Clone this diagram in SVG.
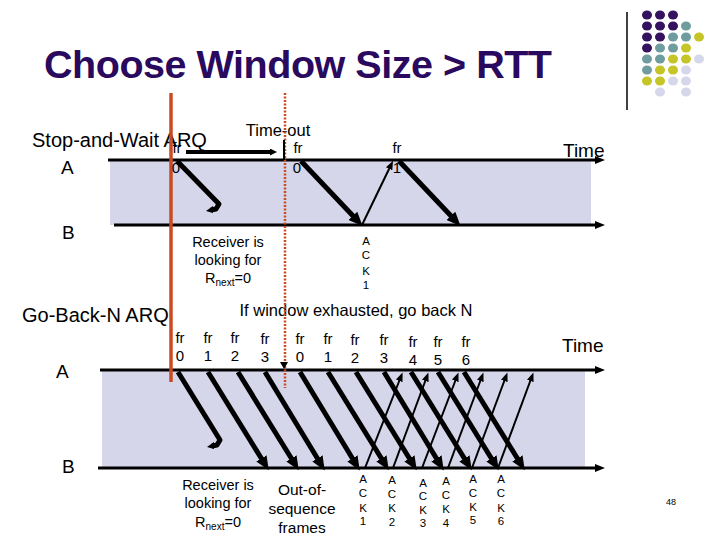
<svg xmlns="http://www.w3.org/2000/svg" width="720" height="540" viewBox="0 0 720 540">
<defs>
<style>
text{font-family:"Liberation Sans",Arial,sans-serif;fill:#000}
.title{font-size:39.5px;font-weight:bold;fill:#2a0a5e}
.lbl{font-size:19px}
.big{font-size:20px}
.fr{font-size:15px;text-anchor:middle}
.note{font-size:14.5px;text-anchor:middle}
.ack{font-size:11.5px;text-anchor:middle}
.band{fill:#d5d6ea}
.axis{stroke:#000;stroke-width:3;fill:none;marker-end:url(#ax)}
.frame{stroke:#000;stroke-width:5;fill:none;marker-end:url(#big)}
.lost{stroke:#000;stroke-width:5;fill:none;stroke-linejoin:round}
.ackl{stroke:#000;stroke-width:2;fill:none;marker-end:url(#small)}
.red{stroke:#c84b22;stroke-width:3.5}
.reddot{stroke:#c84b22;stroke-width:2.5;stroke-dasharray:2 1.5}
.p{fill:#35125f}.t{fill:#6f9c9e}.y{fill:#c5c527}.l{fill:#d6d7ea}
</style>
<marker id="ax" markerUnits="userSpaceOnUse" markerWidth="10" markerHeight="8" refX="2" refY="4" orient="auto"><path d="M0,0 L10,4 L0,8 z" fill="#000"/></marker>
<marker id="big" markerUnits="userSpaceOnUse" markerWidth="14" markerHeight="12" refX="3" refY="6" orient="auto"><path d="M0,0 L14,6 L0,12 z" fill="#000"/></marker>
<marker id="small" markerUnits="userSpaceOnUse" markerWidth="9" markerHeight="7" refX="2" refY="3.5" orient="auto"><path d="M0,0 L9,3.5 L0,7 z" fill="#000"/></marker>
<marker id="tiny" markerUnits="userSpaceOnUse" markerWidth="7" markerHeight="7" refX="2" refY="3.5" orient="auto"><path d="M0,0 L7,3.5 L0,7 z" fill="#000"/></marker>
</defs>
<rect width="720" height="540" fill="#fff"/>

<g id="decoration">
<line x1="627" y1="12" x2="627" y2="110" stroke="#000" stroke-width="1.5"/>
<ellipse class="p" cx="647" cy="15" rx="5" ry="4.5"/><ellipse class="p" cx="660" cy="15" rx="5" ry="4.5"/><ellipse class="p" cx="673" cy="15" rx="5" ry="4.5"/>
<ellipse class="p" cx="647" cy="26" rx="5" ry="4.5"/><ellipse class="p" cx="660" cy="26" rx="5" ry="4.5"/><ellipse class="p" cx="673" cy="26" rx="5" ry="4.5"/><ellipse class="t" cx="686" cy="26" rx="5" ry="4.5"/>
<ellipse class="p" cx="647" cy="37" rx="5" ry="4.5"/><ellipse class="p" cx="660" cy="37" rx="5" ry="4.5"/><ellipse class="t" cx="673" cy="37" rx="5" ry="4.5"/><ellipse class="t" cx="686" cy="37" rx="5" ry="4.5"/><ellipse class="y" cx="699" cy="37" rx="5" ry="4.5"/>
<ellipse class="p" cx="647" cy="48" rx="5" ry="4.5"/><ellipse class="t" cx="660" cy="48" rx="5" ry="4.5"/><ellipse class="t" cx="673" cy="48" rx="5" ry="4.5"/><ellipse class="y" cx="686" cy="48" rx="5" ry="4.5"/>
<ellipse class="t" cx="647" cy="59" rx="5" ry="4.5"/><ellipse class="t" cx="660" cy="59" rx="5" ry="4.5"/><ellipse class="y" cx="673" cy="59" rx="5" ry="4.5"/><ellipse class="y" cx="686" cy="59" rx="5" ry="4.5"/><ellipse class="l" cx="699" cy="59" rx="5" ry="4.5"/>
<ellipse class="t" cx="647" cy="70" rx="5" ry="4.5"/><ellipse class="y" cx="660" cy="70" rx="5" ry="4.5"/><ellipse class="y" cx="673" cy="70" rx="5" ry="4.5"/><ellipse class="l" cx="686" cy="70" rx="5" ry="4.5"/>
<ellipse class="y" cx="647" cy="81" rx="5" ry="4.5"/><ellipse class="y" cx="660" cy="81" rx="5" ry="4.5"/><ellipse class="l" cx="673" cy="81" rx="5" ry="4.5"/><ellipse class="l" cx="686" cy="81" rx="5" ry="4.5"/>
<ellipse class="l" cx="660" cy="92" rx="5" ry="4.5"/><ellipse class="l" cx="686" cy="92" rx="5" ry="4.5"/>
</g>

<g id="title"><text class="title" x="44" y="78" textLength="508" lengthAdjust="spacing">Choose Window Size &gt; RTT</text></g>

<g id="bands">
<rect class="band" x="110" y="160" width="481" height="65"/>
<rect class="band" x="102" y="370" width="483" height="98"/>
</g>

<g id="labels">
<text class="big" x="32" y="147">Stop-and-Wait ARQ</text>
<text class="lbl" x="61" y="174">A</text>
<text class="lbl" x="62" y="239">B</text>
<text class="big" x="22" y="322">Go-Back-N ARQ</text>
<text class="lbl" x="56" y="378">A</text>
<text class="lbl" x="62" y="473">B</text>
<text class="lbl" x="563" y="157">Time</text>
<text class="lbl" x="562" y="352">Time</text>
<text x="278" y="136" style="font-size:16.5px;text-anchor:middle">Time-out</text>
<text x="356" y="316" style="font-size:16.5px;text-anchor:middle">If window exhausted, go back N</text>
<text x="671" y="505" style="font-size:9px;text-anchor:middle">48</text>
</g>

<g id="connectors">
<line class="axis" x1="108" y1="160" x2="597" y2="160"/>
<line class="axis" x1="114" y1="225" x2="597" y2="225"/>
<line class="axis" x1="100" y1="370" x2="597" y2="370"/>
<line class="axis" x1="98" y1="468" x2="597" y2="468"/>
<line class="red" x1="171" y1="93" x2="171" y2="382"/>
<line class="reddot" x1="285" y1="93" x2="285" y2="388"/>
<line x1="186" y1="152" x2="272" y2="152" stroke="#000" stroke-width="4" marker-end="url(#tiny)"/>
<line x1="284" y1="140" x2="284" y2="160" stroke="#000" stroke-width="2"/>
<path d="M280,362 L288,362 L284,369 z" fill="#000"/>
<path class="lost" d="M177,161 L219,204 L216,209 L211,210"/>
<path d="M213,206 L206,211 L213,213 z" fill="#000"/>
<line class="frame" x1="301" y1="161" x2="355" y2="218"/>
<line class="ackl" x1="362" y1="225" x2="390" y2="167"/>
<line class="frame" x1="399" y1="161" x2="453" y2="218"/>
<path class="lost" d="M178,372 L220,440 L217,445 L212,446"/>
<path d="M214,442 L207,447 L214,449 z" fill="#000"/>
<line class="frame" x1="208" y1="372" x2="263" y2="461"/>
<line class="frame" x1="238" y1="372" x2="293" y2="461"/>
<line class="frame" x1="265" y1="372" x2="319" y2="461"/>
<line class="frame" x1="300" y1="372" x2="354" y2="461"/>
<line class="frame" x1="328" y1="372" x2="383" y2="461"/>
<line class="frame" x1="356" y1="372" x2="411" y2="461"/>
<line class="frame" x1="384" y1="372" x2="438" y2="461"/>
<line class="frame" x1="411" y1="372" x2="466" y2="461"/>
<line class="frame" x1="438" y1="372" x2="493" y2="461"/>
<line class="frame" x1="464" y1="372" x2="519" y2="461"/>
<line class="ackl" x1="365" y1="468" x2="400" y2="379"/>
<line class="ackl" x1="393" y1="468" x2="426" y2="379"/>
<line class="ackl" x1="422" y1="468" x2="456" y2="379"/>
<line class="ackl" x1="448" y1="468" x2="481" y2="379"/>
<line class="ackl" x1="472" y1="468" x2="505" y2="379"/>
<line class="ackl" x1="498" y1="468" x2="531" y2="379"/>
</g>

<g id="frame-labels">
<text class="fr" x="177" y="153">fr</text><text class="fr" x="176" y="173">0</text>
<text class="fr" x="298" y="153">fr</text><text class="fr" x="297" y="173">0</text>
<text class="fr" x="397" y="153">fr</text><text class="fr" x="397" y="173">1</text>
<text class="fr" x="180" y="343">fr</text><text class="fr" x="180" y="361">0</text>
<text class="fr" x="208" y="343">fr</text><text class="fr" x="208" y="361">1</text>
<text class="fr" x="235" y="343">fr</text><text class="fr" x="235" y="361">2</text>
<text class="fr" x="265" y="344">fr</text><text class="fr" x="265" y="362">3</text>
<text class="fr" x="300" y="344">fr</text><text class="fr" x="300" y="362">0</text>
<text class="fr" x="328" y="344">fr</text><text class="fr" x="328" y="362">1</text>
<text class="fr" x="355" y="345">fr</text><text class="fr" x="355" y="363">2</text>
<text class="fr" x="384" y="345">fr</text><text class="fr" x="384" y="363">3</text>
<text class="fr" x="413" y="347">fr</text><text class="fr" x="413" y="365">4</text>
<text class="fr" x="438" y="347">fr</text><text class="fr" x="438" y="365">5</text>
<text class="fr" x="466" y="347">fr</text><text class="fr" x="466" y="365">6</text>
</g>

<g id="ack-labels">
<text class="ack" x="366" y="245">A</text><text class="ack" x="366" y="259">C</text><text class="ack" x="366" y="275">K</text><text class="ack" x="366" y="289">1</text>
<text class="ack" x="363" y="483">A</text><text class="ack" x="363" y="497">C</text><text class="ack" x="363" y="512">K</text><text class="ack" x="363" y="525">1</text>
<text class="ack" x="392" y="484">A</text><text class="ack" x="392" y="498">C</text><text class="ack" x="392" y="512">K</text><text class="ack" x="392" y="526">2</text>
<text class="ack" x="423" y="487">A</text><text class="ack" x="423" y="500">C</text><text class="ack" x="423" y="514">K</text><text class="ack" x="423" y="527">3</text>
<text class="ack" x="446" y="485">A</text><text class="ack" x="446" y="499">C</text><text class="ack" x="446" y="513">K</text><text class="ack" x="446" y="527">4</text>
<text class="ack" x="473" y="483">A</text><text class="ack" x="473" y="497">C</text><text class="ack" x="473" y="511">K</text><text class="ack" x="473" y="524">5</text>
<text class="ack" x="501" y="483">A</text><text class="ack" x="501" y="497">C</text><text class="ack" x="501" y="512">K</text><text class="ack" x="501" y="525">6</text>
</g>

<g id="notes">
<text class="note" x="228" y="247">Receiver is</text>
<text class="note" x="228" y="265">looking for</text>
<text class="note" x="228" y="283">R<tspan font-size="10" dy="3">next</tspan><tspan dy="-3">=0</tspan></text>
<text class="note" x="218" y="490">Receiver is</text>
<text class="note" x="218" y="508">looking for</text>
<text class="note" x="218" y="527">R<tspan font-size="10" dy="3">next</tspan><tspan dy="-3">=0</tspan></text>
<text class="note" x="302" y="495" style="font-size:15.5px">Out-of-</text>
<text class="note" x="302" y="514" style="font-size:15.5px">sequence</text>
<text class="note" x="302" y="533" style="font-size:15.5px">frames</text>
</g>
</svg>
